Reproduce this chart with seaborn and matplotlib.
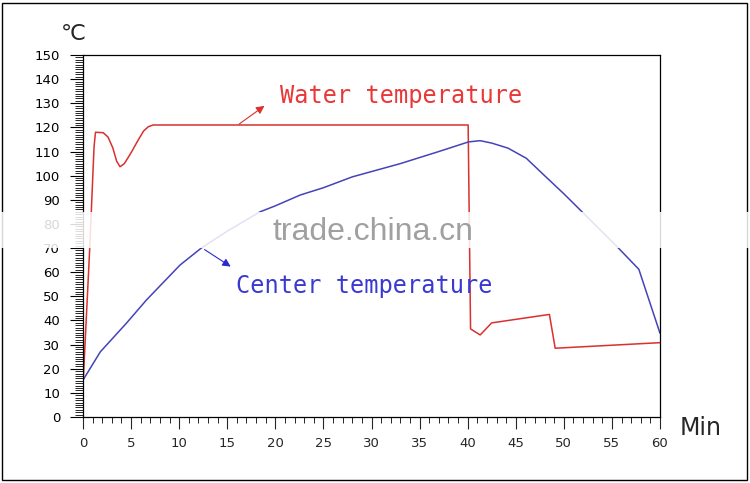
import matplotlib
matplotlib.use("Agg")
import matplotlib.pyplot as plt
import seaborn as sns
from matplotlib.ticker import MultipleLocator
from matplotlib.patches import Rectangle

# water temperature (red curve)
water_min = [0.05, 0.7, 1.15, 1.3, 2.1, 2.6, 3.1, 3.5, 3.85, 4.3, 5.0, 5.7, 6.3,
             6.8, 7.3, 8.0, 40.05, 40.3, 41.3, 42.5, 48.5, 49.1, 60.0]
water_temp = [17, 70, 112, 118, 117.8, 116, 111.5, 106, 103.7, 105, 109.5, 114.5,
              118.5, 120.3, 121, 121, 121, 36.5, 34, 39, 42.5, 28.5, 30.8]

# center temperature (blue curve)
center_min = [0, 1.8, 4.5, 6.6, 10.1, 12.3, 15, 18.4, 20, 22.6, 25, 28, 33, 37,
              40.1, 41.3, 42.5, 44.2, 46.1, 48, 50, 51.9, 55.7, 57.8, 60]
center_temp = [15.3, 27, 38.8, 48.5, 63, 70, 77, 85, 87.5, 92, 95, 99.5, 105, 110,
               114, 114.5, 113.5, 111.4, 107.2, 100, 92.5, 85, 69.9, 61.2, 34.7]

sns.set_style("ticks")
plt.rcParams["font.family"] = ["DejaVu Sans"]

fig = plt.figure(figsize=(7.5, 4.83), dpi=100)
ax = fig.add_axes([83 / 750, 1 - 417 / 483, (660 - 83) / 750, (417 - 55) / 483])

red = "#d93030"
blue = "#4444b8"
sns.lineplot(x=water_min, y=water_temp, sort=False, estimator=None, color=red, lw=1.1, ax=ax)
sns.lineplot(x=center_min, y=center_temp, sort=False, estimator=None, color=blue, lw=1.1, ax=ax)

ax.set_xlim(0, 60)
ax.set_ylim(0, 150)
ax.xaxis.set_major_locator(MultipleLocator(5))
ax.xaxis.set_minor_locator(MultipleLocator(1))
ax.yaxis.set_major_locator(MultipleLocator(10))
ax.yaxis.set_minor_locator(MultipleLocator(1))
ax.tick_params(axis="y", which="major", length=9.4, width=0.8, pad=7, labelsize=9.5, colors="black")
ax.tick_params(axis="y", which="minor", length=5.8, width=0.7)
ax.tick_params(axis="x", which="major", length=8.6, width=0.8, pad=6, labelsize=9.5)
ax.tick_params(axis="x", which="minor", length=4.3, width=0.7)
for s in ax.spines.values():
    s.set_visible(True)
    s.set_linewidth(0.9)
    s.set_color("black")
ax.set_xlabel("")
ax.set_ylabel("")

# annotations
ax.annotate("", xy=(19.1, 129.6), xytext=(16.0, 120.7),
            arrowprops=dict(arrowstyle="-|>", color=red, lw=0.8, mutation_scale=12))
ax.text(20.5, 130.1, "Water temperature", color="#e83838", fontsize=17,
        family="DejaVu Sans Mono", va="baseline", ha="left")
ax.annotate("", xy=(15.6, 61.7), xytext=(12.4, 70),
            arrowprops=dict(arrowstyle="-|>", color="#2a2ad0", lw=0.8, mutation_scale=12))
ax.text(15.9, 51.3, "Center temperature", color="#3a3ad0", fontsize=17,
        family="DejaVu Sans Mono", va="baseline", ha="left")

fig.text(73 / 750, 1 - 34 / 483, "℃", fontsize=16, ha="center", va="center")
fig.text(680 / 750, 1 - 428 / 483, "Min", fontsize=17, ha="left", va="center")

# outer frame
fig.patches.append(Rectangle((2 / 750, 3 / 483), 745 / 750, 477 / 483, transform=fig.transFigure,
                             fill=False, edgecolor="black", lw=1.0, zorder=5))

# watermark band
fig.patches.append(Rectangle((0, 1 - 248 / 483), 1, 36 / 483, transform=fig.transFigure,
                             facecolor="white", edgecolor="none", alpha=0.85, zorder=10))
fig.text(373 / 750, 1 - 232 / 483, "trade.china.cn", fontsize=23, color="#a0a0a0",
         family="Liberation Sans", ha="center", va="center", zorder=11)

fig.savefig("out.png", dpi=100)
